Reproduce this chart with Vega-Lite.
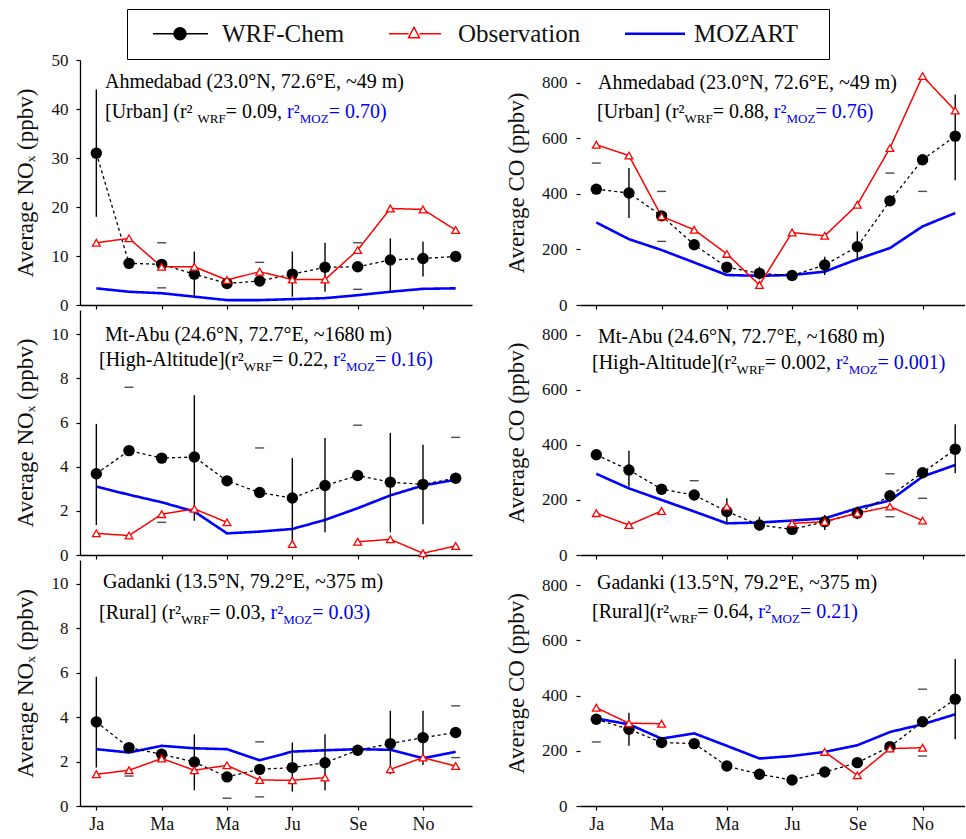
{
  "$schema": "https://vega.github.io/schema/vega-lite/v6.json",
  "background": "white",
  "padding": {"left": 14, "top": 8, "right": 0, "bottom": 0},
  "columns": 2,
  "spacing": {"row": 5, "column": 108},
  "bounds": "flush",
  "resolve": {"scale": {"x": "independent", "y": "independent"}},
  "datasets": {
    "one": [{"k": 1}],
    "d": [
      {"site": "Ahmedabad", "gas": "NOx", "m": 1, "wrf": 31, "obs": 12.7, "moz": 3.4, "lo": 18, "hi": 44},
      {"site": "Ahmedabad", "gas": "NOx", "m": 2, "wrf": 8.5, "obs": 13.6, "moz": 2.7},
      {"site": "Ahmedabad", "gas": "NOx", "m": 3, "wrf": 8.3, "obs": 7.8, "moz": 2.4, "cl": 3.5, "ch": 12.7},
      {"site": "Ahmedabad", "gas": "NOx", "m": 4, "wrf": 6.3, "obs": 7.8, "moz": 1.7, "lo": 1.7, "hi": 10.9},
      {"site": "Ahmedabad", "gas": "NOx", "m": 5, "wrf": 4.4, "obs": 5.1, "moz": 1.0},
      {"site": "Ahmedabad", "gas": "NOx", "m": 6, "wrf": 4.9, "obs": 6.8, "moz": 1.0, "ch": 8.7},
      {"site": "Ahmedabad", "gas": "NOx", "m": 7, "wrf": 6.3, "obs": 5.2, "moz": 1.2, "lo": 1.7, "hi": 10.9},
      {"site": "Ahmedabad", "gas": "NOx", "m": 8, "wrf": 7.7, "obs": 5.2, "moz": 1.4, "lo": 2.7, "hi": 12.7},
      {"site": "Ahmedabad", "gas": "NOx", "m": 9, "wrf": 7.8, "obs": 11.2, "moz": 2.0, "cl": 3.2, "ch": 12.7},
      {"site": "Ahmedabad", "gas": "NOx", "m": 10, "wrf": 9.2, "obs": 19.7, "moz": 2.7, "lo": 2.9, "hi": 13.6},
      {"site": "Ahmedabad", "gas": "NOx", "m": 11, "wrf": 9.5, "obs": 19.5, "moz": 3.3, "lo": 5.8, "hi": 12.9},
      {"site": "Ahmedabad", "gas": "NOx", "m": 12, "wrf": 9.9, "obs": 15.3, "moz": 3.4},

      {"site": "Ahmedabad", "gas": "CO", "m": 1, "wrf": 417, "obs": 577, "moz": 297, "ch": 511},
      {"site": "Ahmedabad", "gas": "CO", "m": 2, "wrf": 403, "obs": 538, "moz": 237, "lo": 313, "hi": 493},
      {"site": "Ahmedabad", "gas": "CO", "m": 3, "wrf": 321, "obs": 319, "moz": 198, "cl": 229, "ch": 409},
      {"site": "Ahmedabad", "gas": "CO", "m": 4, "wrf": 217, "obs": 271, "moz": 153},
      {"site": "Ahmedabad", "gas": "CO", "m": 5, "wrf": 136, "obs": 184, "moz": 108},
      {"site": "Ahmedabad", "gas": "CO", "m": 6, "wrf": 114, "obs": 72, "moz": 105, "lo": 92, "hi": 138},
      {"site": "Ahmedabad", "gas": "CO", "m": 7, "wrf": 106, "obs": 261, "moz": 108},
      {"site": "Ahmedabad", "gas": "CO", "m": 8, "wrf": 144, "obs": 249, "moz": 120, "lo": 108, "hi": 174},
      {"site": "Ahmedabad", "gas": "CO", "m": 9, "wrf": 210, "obs": 361, "moz": 165, "lo": 160, "hi": 265},
      {"site": "Ahmedabad", "gas": "CO", "m": 10, "wrf": 375, "obs": 565, "moz": 205, "ch": 475},
      {"site": "Ahmedabad", "gas": "CO", "m": 11, "wrf": 523, "obs": 824, "moz": 283, "cl": 409},
      {"site": "Ahmedabad", "gas": "CO", "m": 12, "wrf": 608, "obs": 700, "moz": 331, "lo": 449, "hi": 758},

      {"site": "Mt-Abu", "gas": "NOx", "m": 1, "wrf": 3.68, "obs": 0.98, "moz": 3.1, "lo": 1.36, "hi": 5.94},
      {"site": "Mt-Abu", "gas": "NOx", "m": 2, "wrf": 4.73, "obs": 0.88, "moz": 2.73, "ch": 7.6},
      {"site": "Mt-Abu", "gas": "NOx", "m": 3, "wrf": 4.39, "obs": 1.85, "moz": 2.39, "cl": 1.48},
      {"site": "Mt-Abu", "gas": "NOx", "m": 4, "wrf": 4.44, "obs": 2.09, "moz": 1.97, "lo": 1.55, "hi": 7.24},
      {"site": "Mt-Abu", "gas": "NOx", "m": 5, "wrf": 3.36, "obs": 1.48, "moz": 0.98},
      {"site": "Mt-Abu", "gas": "NOx", "m": 6, "wrf": 2.83, "obs": null, "moz": 1.06, "ch": 4.85},
      {"site": "Mt-Abu", "gas": "NOx", "m": 7, "wrf": 2.58, "obs": 0.5, "moz": 1.18, "lo": 0.45, "hi": 4.39},
      {"site": "Mt-Abu", "gas": "NOx", "m": 8, "wrf": 3.15, "obs": null, "moz": 1.59, "lo": 1.03, "hi": 5.3},
      {"site": "Mt-Abu", "gas": "NOx", "m": 9, "wrf": 3.6, "obs": 0.6, "moz": 2.12, "ch": 5.88},
      {"site": "Mt-Abu", "gas": "NOx", "m": 10, "wrf": 3.3, "obs": 0.71, "moz": 2.7, "lo": 1.03, "hi": 5.53},
      {"site": "Mt-Abu", "gas": "NOx", "m": 11, "wrf": 3.2, "obs": 0.08, "moz": 3.15, "lo": 1.39, "hi": 5.0},
      {"site": "Mt-Abu", "gas": "NOx", "m": 12, "wrf": 3.48, "obs": 0.41, "moz": 3.41, "ch": 5.33},

      {"site": "Mt-Abu", "gas": "CO", "m": 1, "wrf": 364, "obs": 152, "moz": 295},
      {"site": "Mt-Abu", "gas": "CO", "m": 2, "wrf": 309, "obs": 109, "moz": 242, "lo": 248, "hi": 379},
      {"site": "Mt-Abu", "gas": "CO", "m": 3, "wrf": 239, "obs": 160, "moz": 200},
      {"site": "Mt-Abu", "gas": "CO", "m": 4, "wrf": 218, "obs": null, "moz": 158, "ch": 270},
      {"site": "Mt-Abu", "gas": "CO", "m": 5, "wrf": 158, "obs": 176, "moz": 115, "lo": 118, "hi": 206},
      {"site": "Mt-Abu", "gas": "CO", "m": 6, "wrf": 109, "obs": null, "moz": 118, "lo": 88, "hi": 139},
      {"site": "Mt-Abu", "gas": "CO", "m": 7, "wrf": 93, "obs": 115, "moz": 125},
      {"site": "Mt-Abu", "gas": "CO", "m": 8, "wrf": 121, "obs": 121, "moz": 133, "lo": 91, "hi": 145},
      {"site": "Mt-Abu", "gas": "CO", "m": 9, "wrf": 152, "obs": 152, "moz": 170, "lo": 130, "hi": 176},
      {"site": "Mt-Abu", "gas": "CO", "m": 10, "wrf": 215, "obs": 176, "moz": 198, "cl": 139, "ch": 295},
      {"site": "Mt-Abu", "gas": "CO", "m": 11, "wrf": 299, "obs": 125, "moz": 285, "cl": 206},
      {"site": "Mt-Abu", "gas": "CO", "m": 12, "wrf": 384, "obs": null, "moz": 327, "lo": 297, "hi": 475},

      {"site": "Gadanki", "gas": "NOx", "m": 1, "wrf": 3.79, "obs": 1.43, "moz": 2.56, "lo": 1.73, "hi": 5.82},
      {"site": "Gadanki", "gas": "NOx", "m": 2, "wrf": 2.63, "obs": 1.61, "moz": 2.41, "cl": 1.35},
      {"site": "Gadanki", "gas": "NOx", "m": 3, "wrf": 2.33, "obs": 2.14, "moz": 2.71},
      {"site": "Gadanki", "gas": "NOx", "m": 4, "wrf": 1.98, "obs": 1.61, "moz": 2.6, "lo": 0.71, "hi": 3.23},
      {"site": "Gadanki", "gas": "NOx", "m": 5, "wrf": 1.31, "obs": 1.83, "moz": 2.56, "cl": 0.35},
      {"site": "Gadanki", "gas": "NOx", "m": 6, "wrf": 1.65, "obs": 1.17, "moz": 2.06, "cl": 0.41, "ch": 2.89},
      {"site": "Gadanki", "gas": "NOx", "m": 7, "wrf": 1.73, "obs": 1.16, "moz": 2.45, "lo": 0.65, "hi": 2.86},
      {"site": "Gadanki", "gas": "NOx", "m": 8, "wrf": 1.95, "obs": 1.28, "moz": 2.51, "lo": 0.71, "hi": 3.23},
      {"site": "Gadanki", "gas": "NOx", "m": 9, "wrf": 2.51, "obs": null, "moz": 2.56},
      {"site": "Gadanki", "gas": "NOx", "m": 10, "wrf": 2.81, "obs": 1.65, "moz": 2.53, "lo": 1.43, "hi": 4.29},
      {"site": "Gadanki", "gas": "NOx", "m": 11, "wrf": 3.08, "obs": 2.18, "moz": 2.15, "lo": 1.85, "hi": 4.29},
      {"site": "Gadanki", "gas": "NOx", "m": 12, "wrf": 3.31, "obs": 1.8, "moz": 2.44, "cl": 2.18, "ch": 4.51},

      {"site": "Gadanki", "gas": "CO", "m": 1, "wrf": 314, "obs": 356, "moz": 317, "cl": 232},
      {"site": "Gadanki", "gas": "CO", "m": 2, "wrf": 278, "obs": 300, "moz": 296, "lo": 218, "hi": 338},
      {"site": "Gadanki", "gas": "CO", "m": 3, "wrf": 230, "obs": 298, "moz": 244},
      {"site": "Gadanki", "gas": "CO", "m": 4, "wrf": 226, "obs": null, "moz": 263},
      {"site": "Gadanki", "gas": "CO", "m": 5, "wrf": 145, "obs": null, "moz": 218},
      {"site": "Gadanki", "gas": "CO", "m": 6, "wrf": 115, "obs": null, "moz": 172},
      {"site": "Gadanki", "gas": "CO", "m": 7, "wrf": 94, "obs": null, "moz": 181},
      {"site": "Gadanki", "gas": "CO", "m": 8, "wrf": 123, "obs": 196, "moz": 196},
      {"site": "Gadanki", "gas": "CO", "m": 9, "wrf": 157, "obs": 111, "moz": 220},
      {"site": "Gadanki", "gas": "CO", "m": 10, "wrf": 215, "obs": 208, "moz": 268},
      {"site": "Gadanki", "gas": "CO", "m": 11, "wrf": 305, "obs": 211, "moz": 296, "cl": 181, "ch": 423},
      {"site": "Gadanki", "gas": "CO", "m": 12, "wrf": 387, "obs": null, "moz": 332, "lo": 242, "hi": 532}
    ]
  },
  "concat": [
    {
      "width": 392, "height": 245,
      "layer": [
        {"data": {"name": "d"}, "transform": [{"filter": "datum.site === 'Ahmedabad' && datum.gas === 'NOx'"}, {"fold": ["moz", "wrf", "obs"], "as": ["series", "v"]}],
         "mark": {"type": "line"},
         "encoding": {
           "x": {"field": "m", "type": "quantitative", "scale": {"domain": [0.5, 12.5], "nice": false, "zero": false}, "axis": {"values": [1,2,3,4,5,6,7,8,9,10,11,12], "labels": false, "title": null}},
           "y": {"field": "v", "type": "quantitative", "scale": {"domain": [0, 50], "nice": false}, "axis": {"title": "Average NOₓ (ppbv)", "values": [0,10,20,30,40,50], "labelPadding": 8, "titlePadding": 14}},
           "color": {"field": "series", "type": "nominal", "scale": {"domain": ["wrf", "obs", "moz"], "range": ["#000000", "#ff0000", "#0000ff"]},
             "legend": {"title": null, "orient": "none", "legendX": 47, "legendY": -51, "direction": "horizontal",
               "padding": 12, "labelOffset": 58, "columnPadding": 30, "symbolSize": 2500,
               "strokeColor": "#000000", "labelFont": "Liberation Serif", "labelFontSize": 25, "labelColor": "#111111",
               "labelExpr": "datum.label === 'wrf' ? 'WRF-Chem' : datum.label === 'obs' ? 'Observation' : 'MOZART'",
               "encode": {
                 "labels": {"enter": {"font": {"value": "Liberation Serif"}}, "update": {"font": {"value": "Liberation Serif"}, "fontSize": {"value": 25}, "fontWeight": {"value": "normal"}}},
                 "symbols": {"update": {
                   "shape": {"signal": "datum.value === 'wrf' ? 'M-0.18,0M0.06,0H2.26M1.38,0A0.24,0.24,0,1,1,0.9,0A0.24,0.24,0,1,1,1.38,0Z' : datum.value === 'obs' ? 'M-0.18,0M0.06,0H0.84M1.28,0H2.14M1.06,-0.26L1.28,0.16H0.84Z' : 'M-0.18,0M0.06,0H2.46M7.5,0'"},
                   "fill": {"signal": "datum.value === 'wrf' ? '#000000' : datum.value === 'obs' ? '#ffffff' : 'transparent'"},
                   "stroke": {"signal": "datum.value === 'wrf' ? '#000000' : datum.value === 'obs' ? '#ff0000' : '#0000ff'"},
                   "strokeWidth": {"signal": "datum.value === 'moz' ? 2.6 : 1.5"},
                   "opacity": {"value": 1}
                 }}}}},
           "strokeDash": {"condition": {"test": "datum.series === 'wrf'", "value": [3, 3]}, "value": [1, 0]},
           "strokeWidth": {"condition": [{"test": "datum.series === 'moz'", "value": 2.6}, {"test": "datum.series === 'obs'", "value": 1.5}], "value": 1.3}
         }},
        {"data": {"name": "d"}, "transform": [{"filter": "datum.site === 'Ahmedabad' && datum.gas === 'NOx'"}, {"filter": "isValid(datum.lo)"}],
         "mark": {"type": "rule", "color": "#000000", "strokeWidth": 1.4},
         "encoding": {"x": {"field": "m", "type": "quantitative", "scale": {"domain": [0.5, 12.5], "nice": false, "zero": false}}, "y": {"field": "lo", "type": "quantitative", "scale": {"domain": [0, 50], "nice": false}}, "y2": {"field": "hi"}}},
        {"data": {"name": "d"}, "transform": [{"filter": "datum.site === 'Ahmedabad' && datum.gas === 'NOx'"}, {"fold": ["cl", "ch"], "as": ["cap", "cv"]}, {"filter": "isValid(datum.cv)"}],
         "mark": {"type": "tick", "orient": "horizontal", "color": "#000000", "size": 9, "thickness": 1.4},
         "encoding": {"x": {"field": "m", "type": "quantitative", "scale": {"domain": [0.5, 12.5], "nice": false, "zero": false}}, "y": {"field": "cv", "type": "quantitative", "scale": {"domain": [0, 50], "nice": false}}}},
        {"data": {"name": "d"}, "transform": [{"filter": "datum.site === 'Ahmedabad' && datum.gas === 'NOx'"}, {"filter": "isValid(datum.wrf)"}],
         "mark": {"type": "point", "shape": "circle", "filled": true, "color": "#000000", "size": 130, "opacity": 1},
         "encoding": {"x": {"field": "m", "type": "quantitative", "scale": {"domain": [0.5, 12.5], "nice": false, "zero": false}}, "y": {"field": "wrf", "type": "quantitative", "scale": {"domain": [0, 50], "nice": false}}}},
        {"data": {"name": "d"}, "transform": [{"filter": "datum.site === 'Ahmedabad' && datum.gas === 'NOx'"}, {"filter": "isValid(datum.obs)"}],
         "mark": {"type": "point", "shape": "triangle-up", "filled": true, "fill": "#ffffff", "stroke": "#ff0000", "strokeWidth": 1.3, "size": 60, "opacity": 1},
         "encoding": {"x": {"field": "m", "type": "quantitative", "scale": {"domain": [0.5, 12.5], "nice": false, "zero": false}}, "y": {"field": "obs", "type": "quantitative", "scale": {"domain": [0, 50], "nice": false}}}},
        {"data": {"name": "one"}, "mark": {"type": "text", "align": "left", "baseline": "middle", "fontSize": 20, "color": "#000000", "text": "Ahmedabad (23.0°N, 72.6°E, ~49 m)"},
         "encoding": {"x": {"datum": 1.265, "type": "quantitative"}, "y": {"datum": 45.5, "type": "quantitative"}}},
        {"data": {"name": "one"}, "mark": {"type": "text", "align": "left", "baseline": "middle", "fontSize": 20, "color": "#000000", "text": "[Urban]  (r²"},
         "encoding": {"x": {"datum": 1.265, "type": "quantitative"}, "y": {"datum": 39.4, "type": "quantitative"}}},
        {"data": {"name": "one"}, "mark": {"type": "text", "align": "left", "baseline": "middle", "fontSize": 13, "dy": 7, "color": "#000000", "text": "WRF"},
         "encoding": {"x": {"datum": 4.100, "type": "quantitative"}, "y": {"datum": 39.4, "type": "quantitative"}}},
        {"data": {"name": "one"}, "mark": {"type": "text", "align": "left", "baseline": "middle", "fontSize": 20, "color": "#000000", "text": "= 0.09, "},
         "encoding": {"x": {"datum": 4.963, "type": "quantitative"}, "y": {"datum": 39.4, "type": "quantitative"}}},
        {"data": {"name": "one"}, "mark": {"type": "text", "align": "left", "baseline": "middle", "fontSize": 20, "color": "#0000ee", "text": "r²"},
         "encoding": {"x": {"datum": 6.839, "type": "quantitative"}, "y": {"datum": 39.4, "type": "quantitative"}}},
        {"data": {"name": "one"}, "mark": {"type": "text", "align": "left", "baseline": "middle", "fontSize": 13, "dy": 7, "color": "#0000ee", "text": "MOZ"},
         "encoding": {"x": {"datum": 7.228, "type": "quantitative"}, "y": {"datum": 39.4, "type": "quantitative"}}},
        {"data": {"name": "one"}, "mark": {"type": "text", "align": "left", "baseline": "middle", "fontSize": 20, "color": "#0000ee", "text": "= 0.70)"},
         "encoding": {"x": {"datum": 8.112, "type": "quantitative"}, "y": {"datum": 39.4, "type": "quantitative"}}}
      ]
    },
    {
      "width": 385, "height": 245,
      "layer": [
        {"data": {"name": "d"}, "transform": [{"filter": "datum.site === 'Ahmedabad' && datum.gas === 'CO'"}, {"fold": ["moz", "wrf", "obs"], "as": ["series", "v"]}],
         "mark": {"type": "line"},
         "encoding": {
           "x": {"field": "m", "type": "quantitative", "scale": {"domain": [0.5, 12.3], "nice": false, "zero": false}, "axis": {"values": [1,2,3,4,5,6,7,8,9,10,11,12], "labels": false, "title": null}},
           "y": {"field": "v", "type": "quantitative", "scale": {"domain": [0, 882], "nice": false}, "axis": {"title": "Average CO (ppbv)", "values": [0,200,400,600,800], "labelPadding": 9, "titlePadding": 13, "domain": false}},
           "detail": {"field": "series", "type": "nominal"},
           "color": {"condition": [{"test": "datum.series === 'wrf'", "value": "#000000"}, {"test": "datum.series === 'obs'", "value": "#ff0000"}], "value": "#0000ff"},
           "strokeDash": {"condition": {"test": "datum.series === 'wrf'", "value": [3, 3]}, "value": [1, 0]},
           "strokeWidth": {"condition": [{"test": "datum.series === 'moz'", "value": 2.6}, {"test": "datum.series === 'obs'", "value": 1.5}], "value": 1.3}
         }},
        {"data": {"name": "d"}, "transform": [{"filter": "datum.site === 'Ahmedabad' && datum.gas === 'CO'"}, {"filter": "isValid(datum.lo)"}],
         "mark": {"type": "rule", "color": "#000000", "strokeWidth": 1.4},
         "encoding": {"x": {"field": "m", "type": "quantitative", "scale": {"domain": [0.5, 12.3], "nice": false, "zero": false}}, "y": {"field": "lo", "type": "quantitative", "scale": {"domain": [0, 882], "nice": false}}, "y2": {"field": "hi"}}},
        {"data": {"name": "d"}, "transform": [{"filter": "datum.site === 'Ahmedabad' && datum.gas === 'CO'"}, {"fold": ["cl", "ch"], "as": ["cap", "cv"]}, {"filter": "isValid(datum.cv)"}],
         "mark": {"type": "tick", "orient": "horizontal", "color": "#000000", "size": 9, "thickness": 1.4},
         "encoding": {"x": {"field": "m", "type": "quantitative", "scale": {"domain": [0.5, 12.3], "nice": false, "zero": false}}, "y": {"field": "cv", "type": "quantitative", "scale": {"domain": [0, 882], "nice": false}}}},
        {"data": {"name": "d"}, "transform": [{"filter": "datum.site === 'Ahmedabad' && datum.gas === 'CO'"}, {"filter": "isValid(datum.wrf)"}],
         "mark": {"type": "point", "shape": "circle", "filled": true, "color": "#000000", "size": 130, "opacity": 1},
         "encoding": {"x": {"field": "m", "type": "quantitative", "scale": {"domain": [0.5, 12.3], "nice": false, "zero": false}}, "y": {"field": "wrf", "type": "quantitative", "scale": {"domain": [0, 882], "nice": false}}}},
        {"data": {"name": "d"}, "transform": [{"filter": "datum.site === 'Ahmedabad' && datum.gas === 'CO'"}, {"filter": "isValid(datum.obs)"}],
         "mark": {"type": "point", "shape": "triangle-up", "filled": true, "fill": "#ffffff", "stroke": "#ff0000", "strokeWidth": 1.3, "size": 60, "opacity": 1},
         "encoding": {"x": {"field": "m", "type": "quantitative", "scale": {"domain": [0.5, 12.3], "nice": false, "zero": false}}, "y": {"field": "obs", "type": "quantitative", "scale": {"domain": [0, 882], "nice": false}}}},
        {"data": {"name": "one"}, "mark": {"type": "text", "align": "left", "baseline": "middle", "fontSize": 20, "color": "#000000", "text": "Ahmedabad (23.0°N, 72.6°E, ~49 m)"},
         "encoding": {"x": {"datum": 1.051, "type": "quantitative"}, "y": {"datum": 799, "type": "quantitative"}}},
        {"data": {"name": "one"}, "mark": {"type": "text", "align": "left", "baseline": "middle", "fontSize": 20, "color": "#000000", "text": "[Urban] (r²"},
         "encoding": {"x": {"datum": 1.020, "type": "quantitative"}, "y": {"datum": 695, "type": "quantitative"}}},
        {"data": {"name": "one"}, "mark": {"type": "text", "align": "left", "baseline": "middle", "fontSize": 13, "dy": 7, "color": "#000000", "text": "WRF"},
         "encoding": {"x": {"datum": 3.702, "type": "quantitative"}, "y": {"datum": 695, "type": "quantitative"}}},
        {"data": {"name": "one"}, "mark": {"type": "text", "align": "left", "baseline": "middle", "fontSize": 20, "color": "#000000", "text": "= 0.88, "},
         "encoding": {"x": {"datum": 4.565, "type": "quantitative"}, "y": {"datum": 695, "type": "quantitative"}}},
        {"data": {"name": "one"}, "mark": {"type": "text", "align": "left", "baseline": "middle", "fontSize": 20, "color": "#0000ee", "text": "r²"},
         "encoding": {"x": {"datum": 6.441, "type": "quantitative"}, "y": {"datum": 695, "type": "quantitative"}}},
        {"data": {"name": "one"}, "mark": {"type": "text", "align": "left", "baseline": "middle", "fontSize": 13, "dy": 7, "color": "#0000ee", "text": "MOZ"},
         "encoding": {"x": {"datum": 6.830, "type": "quantitative"}, "y": {"datum": 695, "type": "quantitative"}}},
        {"data": {"name": "one"}, "mark": {"type": "text", "align": "left", "baseline": "middle", "fontSize": 20, "color": "#0000ee", "text": "= 0.76)"},
         "encoding": {"x": {"datum": 7.715, "type": "quantitative"}, "y": {"datum": 695, "type": "quantitative"}}}
      ]
    },
    {
      "width": 392, "height": 245,
      "layer": [
        {"data": {"name": "d"}, "transform": [{"filter": "datum.site === 'Mt-Abu' && datum.gas === 'NOx'"}, {"fold": ["moz", "wrf", "obs"], "as": ["series", "v"]}],
         "mark": {"type": "line"},
         "encoding": {
           "x": {"field": "m", "type": "quantitative", "scale": {"domain": [0.5, 12.5], "nice": false, "zero": false}, "axis": {"values": [1,2,3,4,5,6,7,8,9,10,11,12], "labels": false, "title": null}},
           "y": {"field": "v", "type": "quantitative", "scale": {"domain": [0, 11.1], "nice": false}, "axis": {"title": "Average NOₓ (ppbv)", "values": [0,2,4,6,8,10], "labelPadding": 8, "titlePadding": 14}},
           "detail": {"field": "series", "type": "nominal"},
           "color": {"condition": [{"test": "datum.series === 'wrf'", "value": "#000000"}, {"test": "datum.series === 'obs'", "value": "#ff0000"}], "value": "#0000ff"},
           "strokeDash": {"condition": {"test": "datum.series === 'wrf'", "value": [3, 3]}, "value": [1, 0]},
           "strokeWidth": {"condition": [{"test": "datum.series === 'moz'", "value": 2.6}, {"test": "datum.series === 'obs'", "value": 1.5}], "value": 1.3}
         }},
        {"data": {"name": "d"}, "transform": [{"filter": "datum.site === 'Mt-Abu' && datum.gas === 'NOx'"}, {"filter": "isValid(datum.lo)"}],
         "mark": {"type": "rule", "color": "#000000", "strokeWidth": 1.4},
         "encoding": {"x": {"field": "m", "type": "quantitative", "scale": {"domain": [0.5, 12.5], "nice": false, "zero": false}}, "y": {"field": "lo", "type": "quantitative", "scale": {"domain": [0, 11.1], "nice": false}}, "y2": {"field": "hi"}}},
        {"data": {"name": "d"}, "transform": [{"filter": "datum.site === 'Mt-Abu' && datum.gas === 'NOx'"}, {"fold": ["cl", "ch"], "as": ["cap", "cv"]}, {"filter": "isValid(datum.cv)"}],
         "mark": {"type": "tick", "orient": "horizontal", "color": "#000000", "size": 9, "thickness": 1.4},
         "encoding": {"x": {"field": "m", "type": "quantitative", "scale": {"domain": [0.5, 12.5], "nice": false, "zero": false}}, "y": {"field": "cv", "type": "quantitative", "scale": {"domain": [0, 11.1], "nice": false}}}},
        {"data": {"name": "d"}, "transform": [{"filter": "datum.site === 'Mt-Abu' && datum.gas === 'NOx'"}, {"filter": "isValid(datum.wrf)"}],
         "mark": {"type": "point", "shape": "circle", "filled": true, "color": "#000000", "size": 130, "opacity": 1},
         "encoding": {"x": {"field": "m", "type": "quantitative", "scale": {"domain": [0.5, 12.5], "nice": false, "zero": false}}, "y": {"field": "wrf", "type": "quantitative", "scale": {"domain": [0, 11.1], "nice": false}}}},
        {"data": {"name": "d"}, "transform": [{"filter": "datum.site === 'Mt-Abu' && datum.gas === 'NOx'"}, {"filter": "isValid(datum.obs)"}],
         "mark": {"type": "point", "shape": "triangle-up", "filled": true, "fill": "#ffffff", "stroke": "#ff0000", "strokeWidth": 1.3, "size": 60, "opacity": 1},
         "encoding": {"x": {"field": "m", "type": "quantitative", "scale": {"domain": [0.5, 12.5], "nice": false, "zero": false}}, "y": {"field": "obs", "type": "quantitative", "scale": {"domain": [0, 11.1], "nice": false}}}},
        {"data": {"name": "one"}, "mark": {"type": "text", "align": "left", "baseline": "middle", "fontSize": 20, "color": "#000000", "text": "Mt-Abu (24.6°N, 72.7°E, ~1680 m)"},
         "encoding": {"x": {"datum": 1.265, "type": "quantitative"}, "y": {"datum": 9.97, "type": "quantitative"}}},
        {"data": {"name": "one"}, "mark": {"type": "text", "align": "left", "baseline": "middle", "fontSize": 20, "color": "#000000", "text": "[High-Altitude](r²"},
         "encoding": {"x": {"datum": 1.082, "type": "quantitative"}, "y": {"datum": 8.84, "type": "quantitative"}}},
        {"data": {"name": "one"}, "mark": {"type": "text", "align": "left", "baseline": "middle", "fontSize": 13, "dy": 7, "color": "#000000", "text": "WRF"},
         "encoding": {"x": {"datum": 5.514, "type": "quantitative"}, "y": {"datum": 8.84, "type": "quantitative"}}},
        {"data": {"name": "one"}, "mark": {"type": "text", "align": "left", "baseline": "middle", "fontSize": 20, "color": "#000000", "text": "= 0.22, "},
         "encoding": {"x": {"datum": 6.377, "type": "quantitative"}, "y": {"datum": 8.84, "type": "quantitative"}}},
        {"data": {"name": "one"}, "mark": {"type": "text", "align": "left", "baseline": "middle", "fontSize": 20, "color": "#0000ee", "text": "r²"},
         "encoding": {"x": {"datum": 8.253, "type": "quantitative"}, "y": {"datum": 8.84, "type": "quantitative"}}},
        {"data": {"name": "one"}, "mark": {"type": "text", "align": "left", "baseline": "middle", "fontSize": 13, "dy": 7, "color": "#0000ee", "text": "MOZ"},
         "encoding": {"x": {"datum": 8.642, "type": "quantitative"}, "y": {"datum": 8.84, "type": "quantitative"}}},
        {"data": {"name": "one"}, "mark": {"type": "text", "align": "left", "baseline": "middle", "fontSize": 20, "color": "#0000ee", "text": "= 0.16)"},
         "encoding": {"x": {"datum": 9.527, "type": "quantitative"}, "y": {"datum": 8.84, "type": "quantitative"}}}
      ]
    },
    {
      "width": 385, "height": 245,
      "layer": [
        {"data": {"name": "d"}, "transform": [{"filter": "datum.site === 'Mt-Abu' && datum.gas === 'CO'"}, {"fold": ["moz", "wrf", "obs"], "as": ["series", "v"]}],
         "mark": {"type": "line"},
         "encoding": {
           "x": {"field": "m", "type": "quantitative", "scale": {"domain": [0.5, 12.3], "nice": false, "zero": false}, "axis": {"values": [1,2,3,4,5,6,7,8,9,10,11,12], "labels": false, "title": null}},
           "y": {"field": "v", "type": "quantitative", "scale": {"domain": [0, 890], "nice": false}, "axis": {"title": "Average CO (ppbv)", "values": [0,200,400,600,800], "labelPadding": 9, "titlePadding": 13, "domain": false}},
           "detail": {"field": "series", "type": "nominal"},
           "color": {"condition": [{"test": "datum.series === 'wrf'", "value": "#000000"}, {"test": "datum.series === 'obs'", "value": "#ff0000"}], "value": "#0000ff"},
           "strokeDash": {"condition": {"test": "datum.series === 'wrf'", "value": [3, 3]}, "value": [1, 0]},
           "strokeWidth": {"condition": [{"test": "datum.series === 'moz'", "value": 2.6}, {"test": "datum.series === 'obs'", "value": 1.5}], "value": 1.3}
         }},
        {"data": {"name": "d"}, "transform": [{"filter": "datum.site === 'Mt-Abu' && datum.gas === 'CO'"}, {"filter": "isValid(datum.lo)"}],
         "mark": {"type": "rule", "color": "#000000", "strokeWidth": 1.4},
         "encoding": {"x": {"field": "m", "type": "quantitative", "scale": {"domain": [0.5, 12.3], "nice": false, "zero": false}}, "y": {"field": "lo", "type": "quantitative", "scale": {"domain": [0, 890], "nice": false}}, "y2": {"field": "hi"}}},
        {"data": {"name": "d"}, "transform": [{"filter": "datum.site === 'Mt-Abu' && datum.gas === 'CO'"}, {"fold": ["cl", "ch"], "as": ["cap", "cv"]}, {"filter": "isValid(datum.cv)"}],
         "mark": {"type": "tick", "orient": "horizontal", "color": "#000000", "size": 9, "thickness": 1.4},
         "encoding": {"x": {"field": "m", "type": "quantitative", "scale": {"domain": [0.5, 12.3], "nice": false, "zero": false}}, "y": {"field": "cv", "type": "quantitative", "scale": {"domain": [0, 890], "nice": false}}}},
        {"data": {"name": "d"}, "transform": [{"filter": "datum.site === 'Mt-Abu' && datum.gas === 'CO'"}, {"filter": "isValid(datum.wrf)"}],
         "mark": {"type": "point", "shape": "circle", "filled": true, "color": "#000000", "size": 130, "opacity": 1},
         "encoding": {"x": {"field": "m", "type": "quantitative", "scale": {"domain": [0.5, 12.3], "nice": false, "zero": false}}, "y": {"field": "wrf", "type": "quantitative", "scale": {"domain": [0, 890], "nice": false}}}},
        {"data": {"name": "d"}, "transform": [{"filter": "datum.site === 'Mt-Abu' && datum.gas === 'CO'"}, {"filter": "isValid(datum.obs)"}],
         "mark": {"type": "point", "shape": "triangle-up", "filled": true, "fill": "#ffffff", "stroke": "#ff0000", "strokeWidth": 1.3, "size": 60, "opacity": 1},
         "encoding": {"x": {"field": "m", "type": "quantitative", "scale": {"domain": [0.5, 12.3], "nice": false, "zero": false}}, "y": {"field": "obs", "type": "quantitative", "scale": {"domain": [0, 890], "nice": false}}}},
        {"data": {"name": "one"}, "mark": {"type": "text", "align": "left", "baseline": "middle", "fontSize": 20, "color": "#000000", "text": "Mt-Abu (24.6°N, 72.7°E, ~1680 m)"},
         "encoding": {"x": {"datum": 1.051, "type": "quantitative"}, "y": {"datum": 792, "type": "quantitative"}}},
        {"data": {"name": "one"}, "mark": {"type": "text", "align": "left", "baseline": "middle", "fontSize": 20, "color": "#000000", "text": "[High-Altitude](r²"},
         "encoding": {"x": {"datum": 0.867, "type": "quantitative"}, "y": {"datum": 697, "type": "quantitative"}}},
        {"data": {"name": "one"}, "mark": {"type": "text", "align": "left", "baseline": "middle", "fontSize": 13, "dy": 7, "color": "#000000", "text": "WRF"},
         "encoding": {"x": {"datum": 5.300, "type": "quantitative"}, "y": {"datum": 697, "type": "quantitative"}}},
        {"data": {"name": "one"}, "mark": {"type": "text", "align": "left", "baseline": "middle", "fontSize": 20, "color": "#000000", "text": "= 0.002, "},
         "encoding": {"x": {"datum": 6.163, "type": "quantitative"}, "y": {"datum": 697, "type": "quantitative"}}},
        {"data": {"name": "one"}, "mark": {"type": "text", "align": "left", "baseline": "middle", "fontSize": 20, "color": "#0000ee", "text": "r²"},
         "encoding": {"x": {"datum": 8.345, "type": "quantitative"}, "y": {"datum": 697, "type": "quantitative"}}},
        {"data": {"name": "one"}, "mark": {"type": "text", "align": "left", "baseline": "middle", "fontSize": 13, "dy": 7, "color": "#0000ee", "text": "MOZ"},
         "encoding": {"x": {"datum": 8.734, "type": "quantitative"}, "y": {"datum": 697, "type": "quantitative"}}},
        {"data": {"name": "one"}, "mark": {"type": "text", "align": "left", "baseline": "middle", "fontSize": 20, "color": "#0000ee", "text": "= 0.001)"},
         "encoding": {"x": {"datum": 9.619, "type": "quantitative"}, "y": {"datum": 697, "type": "quantitative"}}}
      ]
    },
    {
      "width": 392, "height": 246,
      "layer": [
        {"data": {"name": "d"}, "transform": [{"filter": "datum.site === 'Gadanki' && datum.gas === 'NOx'"}, {"fold": ["moz", "wrf", "obs"], "as": ["series", "v"]}],
         "mark": {"type": "line"},
         "encoding": {
           "x": {"field": "m", "type": "quantitative", "scale": {"domain": [0.5, 12.5], "nice": false, "zero": false}, "axis": {"values": [1,2,3,4,5,6,7,8,9,10,11,12], "labels": true, "title": null, "labelFontSize": 18, "labelPadding": 5, "labelOverlap": false, "labelSeparation": -40, "labelBound": false, "labelFlush": false, "labelExpr": "['Ja','Fe','Ma','Ap','Ma','Ju','Ju','Au','Se','Oc','No','De'][datum.value - 1]"}},
           "y": {"field": "v", "type": "quantitative", "scale": {"domain": [0, 11.08], "nice": false}, "axis": {"title": "Average NOₓ (ppbv)", "values": [0,2,4,6,8,10], "labelPadding": 8, "titlePadding": 14}},
           "detail": {"field": "series", "type": "nominal"},
           "color": {"condition": [{"test": "datum.series === 'wrf'", "value": "#000000"}, {"test": "datum.series === 'obs'", "value": "#ff0000"}], "value": "#0000ff"},
           "strokeDash": {"condition": {"test": "datum.series === 'wrf'", "value": [3, 3]}, "value": [1, 0]},
           "strokeWidth": {"condition": [{"test": "datum.series === 'moz'", "value": 2.6}, {"test": "datum.series === 'obs'", "value": 1.5}], "value": 1.3}
         }},
        {"data": {"name": "d"}, "transform": [{"filter": "datum.site === 'Gadanki' && datum.gas === 'NOx'"}, {"filter": "isValid(datum.lo)"}],
         "mark": {"type": "rule", "color": "#000000", "strokeWidth": 1.4},
         "encoding": {"x": {"field": "m", "type": "quantitative", "scale": {"domain": [0.5, 12.5], "nice": false, "zero": false}}, "y": {"field": "lo", "type": "quantitative", "scale": {"domain": [0, 11.08], "nice": false}}, "y2": {"field": "hi"}}},
        {"data": {"name": "d"}, "transform": [{"filter": "datum.site === 'Gadanki' && datum.gas === 'NOx'"}, {"fold": ["cl", "ch"], "as": ["cap", "cv"]}, {"filter": "isValid(datum.cv)"}],
         "mark": {"type": "tick", "orient": "horizontal", "color": "#000000", "size": 9, "thickness": 1.4},
         "encoding": {"x": {"field": "m", "type": "quantitative", "scale": {"domain": [0.5, 12.5], "nice": false, "zero": false}}, "y": {"field": "cv", "type": "quantitative", "scale": {"domain": [0, 11.08], "nice": false}}}},
        {"data": {"name": "d"}, "transform": [{"filter": "datum.site === 'Gadanki' && datum.gas === 'NOx'"}, {"filter": "isValid(datum.wrf)"}],
         "mark": {"type": "point", "shape": "circle", "filled": true, "color": "#000000", "size": 130, "opacity": 1},
         "encoding": {"x": {"field": "m", "type": "quantitative", "scale": {"domain": [0.5, 12.5], "nice": false, "zero": false}}, "y": {"field": "wrf", "type": "quantitative", "scale": {"domain": [0, 11.08], "nice": false}}}},
        {"data": {"name": "d"}, "transform": [{"filter": "datum.site === 'Gadanki' && datum.gas === 'NOx'"}, {"filter": "isValid(datum.obs)"}],
         "mark": {"type": "point", "shape": "triangle-up", "filled": true, "fill": "#ffffff", "stroke": "#ff0000", "strokeWidth": 1.3, "size": 60, "opacity": 1},
         "encoding": {"x": {"field": "m", "type": "quantitative", "scale": {"domain": [0.5, 12.5], "nice": false, "zero": false}}, "y": {"field": "obs", "type": "quantitative", "scale": {"domain": [0, 11.08], "nice": false}}}},
        {"data": {"name": "one"}, "mark": {"type": "text", "align": "left", "baseline": "middle", "fontSize": 20, "color": "#000000", "text": "Gadanki (13.5°N, 79.2°E, ~375 m)"},
         "encoding": {"x": {"datum": 1.204, "type": "quantitative"}, "y": {"datum": 10.09, "type": "quantitative"}}},
        {"data": {"name": "one"}, "mark": {"type": "text", "align": "left", "baseline": "middle", "fontSize": 20, "color": "#000000", "text": "[Rural] (r²"},
         "encoding": {"x": {"datum": 1.082, "type": "quantitative"}, "y": {"datum": 8.69, "type": "quantitative"}}},
        {"data": {"name": "one"}, "mark": {"type": "text", "align": "left", "baseline": "middle", "fontSize": 13, "dy": 7, "color": "#000000", "text": "WRF"},
         "encoding": {"x": {"datum": 3.595, "type": "quantitative"}, "y": {"datum": 8.69, "type": "quantitative"}}},
        {"data": {"name": "one"}, "mark": {"type": "text", "align": "left", "baseline": "middle", "fontSize": 20, "color": "#000000", "text": "= 0.03, "},
         "encoding": {"x": {"datum": 4.458, "type": "quantitative"}, "y": {"datum": 8.69, "type": "quantitative"}}},
        {"data": {"name": "one"}, "mark": {"type": "text", "align": "left", "baseline": "middle", "fontSize": 20, "color": "#0000ee", "text": "r²"},
         "encoding": {"x": {"datum": 6.334, "type": "quantitative"}, "y": {"datum": 8.69, "type": "quantitative"}}},
        {"data": {"name": "one"}, "mark": {"type": "text", "align": "left", "baseline": "middle", "fontSize": 13, "dy": 7, "color": "#0000ee", "text": "MOZ"},
         "encoding": {"x": {"datum": 6.723, "type": "quantitative"}, "y": {"datum": 8.69, "type": "quantitative"}}},
        {"data": {"name": "one"}, "mark": {"type": "text", "align": "left", "baseline": "middle", "fontSize": 20, "color": "#0000ee", "text": "= 0.03)"},
         "encoding": {"x": {"datum": 7.607, "type": "quantitative"}, "y": {"datum": 8.69, "type": "quantitative"}}}
      ]
    },
    {
      "width": 385, "height": 246,
      "layer": [
        {"data": {"name": "d"}, "transform": [{"filter": "datum.site === 'Gadanki' && datum.gas === 'CO'"}, {"fold": ["moz", "wrf", "obs"], "as": ["series", "v"]}],
         "mark": {"type": "line"},
         "encoding": {
           "x": {"field": "m", "type": "quantitative", "scale": {"domain": [0.5, 12.3], "nice": false, "zero": false}, "axis": {"values": [1,2,3,4,5,6,7,8,9,10,11,12], "labels": true, "title": null, "labelFontSize": 18, "labelPadding": 5, "labelOverlap": false, "labelSeparation": -40, "labelBound": false, "labelFlush": false, "labelExpr": "['Ja','Fe','Ma','Ap','Ma','Ju','Ju','Au','Se','Oc','No','De'][datum.value - 1]"}},
           "y": {"field": "v", "type": "quantitative", "scale": {"domain": [0, 891], "nice": false}, "axis": {"title": "Average CO (ppbv)", "values": [0,200,400,600,800], "labelPadding": 9, "titlePadding": 13, "domain": false}},
           "detail": {"field": "series", "type": "nominal"},
           "color": {"condition": [{"test": "datum.series === 'wrf'", "value": "#000000"}, {"test": "datum.series === 'obs'", "value": "#ff0000"}], "value": "#0000ff"},
           "strokeDash": {"condition": {"test": "datum.series === 'wrf'", "value": [3, 3]}, "value": [1, 0]},
           "strokeWidth": {"condition": [{"test": "datum.series === 'moz'", "value": 2.6}, {"test": "datum.series === 'obs'", "value": 1.5}], "value": 1.3}
         }},
        {"data": {"name": "d"}, "transform": [{"filter": "datum.site === 'Gadanki' && datum.gas === 'CO'"}, {"filter": "isValid(datum.lo)"}],
         "mark": {"type": "rule", "color": "#000000", "strokeWidth": 1.4},
         "encoding": {"x": {"field": "m", "type": "quantitative", "scale": {"domain": [0.5, 12.3], "nice": false, "zero": false}}, "y": {"field": "lo", "type": "quantitative", "scale": {"domain": [0, 891], "nice": false}}, "y2": {"field": "hi"}}},
        {"data": {"name": "d"}, "transform": [{"filter": "datum.site === 'Gadanki' && datum.gas === 'CO'"}, {"fold": ["cl", "ch"], "as": ["cap", "cv"]}, {"filter": "isValid(datum.cv)"}],
         "mark": {"type": "tick", "orient": "horizontal", "color": "#000000", "size": 9, "thickness": 1.4},
         "encoding": {"x": {"field": "m", "type": "quantitative", "scale": {"domain": [0.5, 12.3], "nice": false, "zero": false}}, "y": {"field": "cv", "type": "quantitative", "scale": {"domain": [0, 891], "nice": false}}}},
        {"data": {"name": "d"}, "transform": [{"filter": "datum.site === 'Gadanki' && datum.gas === 'CO'"}, {"filter": "isValid(datum.wrf)"}],
         "mark": {"type": "point", "shape": "circle", "filled": true, "color": "#000000", "size": 130, "opacity": 1},
         "encoding": {"x": {"field": "m", "type": "quantitative", "scale": {"domain": [0.5, 12.3], "nice": false, "zero": false}}, "y": {"field": "wrf", "type": "quantitative", "scale": {"domain": [0, 891], "nice": false}}}},
        {"data": {"name": "d"}, "transform": [{"filter": "datum.site === 'Gadanki' && datum.gas === 'CO'"}, {"filter": "isValid(datum.obs)"}],
         "mark": {"type": "point", "shape": "triangle-up", "filled": true, "fill": "#ffffff", "stroke": "#ff0000", "strokeWidth": 1.3, "size": 60, "opacity": 1},
         "encoding": {"x": {"field": "m", "type": "quantitative", "scale": {"domain": [0.5, 12.3], "nice": false, "zero": false}}, "y": {"field": "obs", "type": "quantitative", "scale": {"domain": [0, 891], "nice": false}}}},
        {"data": {"name": "one"}, "mark": {"type": "text", "align": "left", "baseline": "middle", "fontSize": 20, "color": "#000000", "text": "Gadanki (13.5°N, 79.2°E, ~375 m)"},
         "encoding": {"x": {"datum": 1.020, "type": "quantitative"}, "y": {"datum": 808, "type": "quantitative"}}},
        {"data": {"name": "one"}, "mark": {"type": "text", "align": "left", "baseline": "middle", "fontSize": 20, "color": "#000000", "text": "[Rural](r²"},
         "encoding": {"x": {"datum": 0.867, "type": "quantitative"}, "y": {"datum": 703, "type": "quantitative"}}},
        {"data": {"name": "one"}, "mark": {"type": "text", "align": "left", "baseline": "middle", "fontSize": 13, "dy": 7, "color": "#000000", "text": "WRF"},
         "encoding": {"x": {"datum": 3.227, "type": "quantitative"}, "y": {"datum": 703, "type": "quantitative"}}},
        {"data": {"name": "one"}, "mark": {"type": "text", "align": "left", "baseline": "middle", "fontSize": 20, "color": "#000000", "text": "= 0.64, "},
         "encoding": {"x": {"datum": 4.091, "type": "quantitative"}, "y": {"datum": 703, "type": "quantitative"}}},
        {"data": {"name": "one"}, "mark": {"type": "text", "align": "left", "baseline": "middle", "fontSize": 20, "color": "#0000ee", "text": "r²"},
         "encoding": {"x": {"datum": 5.967, "type": "quantitative"}, "y": {"datum": 703, "type": "quantitative"}}},
        {"data": {"name": "one"}, "mark": {"type": "text", "align": "left", "baseline": "middle", "fontSize": 13, "dy": 7, "color": "#0000ee", "text": "MOZ"},
         "encoding": {"x": {"datum": 6.356, "type": "quantitative"}, "y": {"datum": 703, "type": "quantitative"}}},
        {"data": {"name": "one"}, "mark": {"type": "text", "align": "left", "baseline": "middle", "fontSize": 20, "color": "#0000ee", "text": "= 0.21)"},
         "encoding": {"x": {"datum": 7.241, "type": "quantitative"}, "y": {"datum": 703, "type": "quantitative"}}}
      ]
    }
  ],
  "config": {
    "font": "Liberation Serif",
    "view": {"stroke": null},
    "axis": {
      "grid": false,
      "domainColor": "#000000",
      "domainWidth": 1.3,
      "tickColor": "#000000",
      "tickWidth": 1.2,
      "tickSize": 4,
      "labelColor": "#111111",
      "titleColor": "#111111",
      "labelFont": "Liberation Serif",
      "titleFont": "Liberation Serif",
      "labelFontSize": 17,
      "titleFontSize": 23,
      "titleFontWeight": "normal",
      "labelOverlap": false,
      "labelSeparation": -40,
      "labelFlush": false
    },
    "legend": {"labelFont": "Liberation Serif"},
    "text": {"font": "Liberation Serif"}
  }
}
